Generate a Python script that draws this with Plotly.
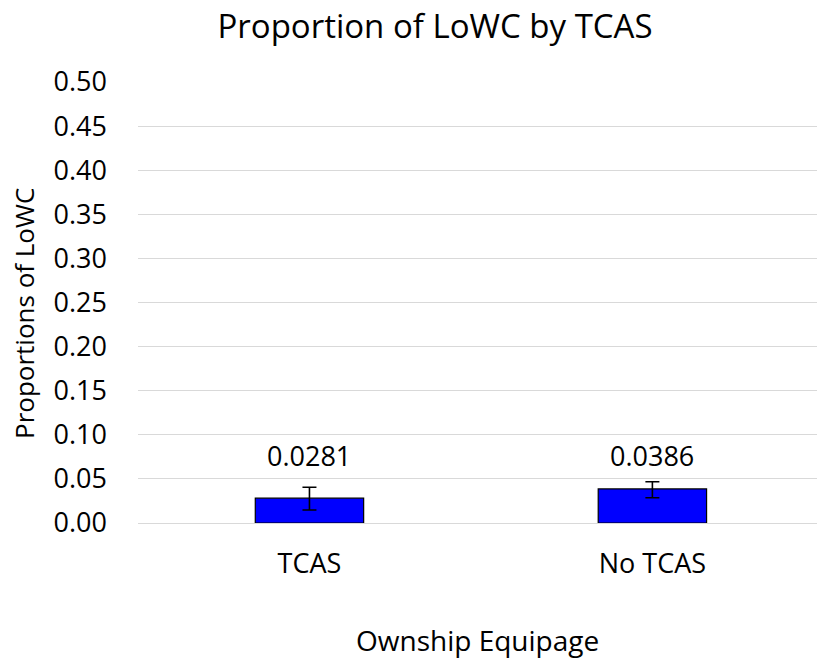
import plotly.graph_objects as go

categories = ["TCAS", "No TCAS"]
proportions = [0.0281, 0.0386]
err_plus = [0.0124, 0.0082]
err_minus = [0.0134, 0.0099]
y_ticks = [0.0, 0.05, 0.10, 0.15, 0.20, 0.25, 0.30, 0.35, 0.40, 0.45, 0.50]

FONT = "Open Sans"
GRID = "#D9D9D9"

fig = go.Figure()
fig.add_trace(go.Bar(
    x=categories,
    y=proportions,
    width=0.316,
    marker=dict(color="#0000FF", line=dict(color="#000000", width=1.2)),
    error_y=dict(type="data", array=err_plus, arrayminus=err_minus,
                 symmetric=False, color="#000000", thickness=1.6, width=7),
    showlegend=False,
))

# value labels sit at a common height above the bars
for c, v in zip(categories, proportions):
    fig.add_annotation(x=c, y=0.076, text=f"{v:.4f}", showarrow=False,
                       font=dict(family=FONT, size=27, color="#000000"),
                       yanchor="middle")

# axis titles
fig.add_annotation(xref="paper", yref="paper", x=0.5, y=-(640 - 523) / 441,
                   text="Ownship Equipage", showarrow=False,
                   xanchor="center", yanchor="middle",
                   font=dict(family=FONT, size=28, color="#000000"))
fig.add_annotation(xref="paper", yref="paper", x=-(138 - 24) / 679, y=(523 - 314) / 441,
                   text="Proportions of LoWC", showarrow=False, textangle=-90,
                   xanchor="center", yanchor="middle",
                   font=dict(family=FONT, size=26, color="#000000"))

fig.update_layout(
    width=817, height=661,
    margin=dict(l=138, r=0, t=82, b=138, autoexpand=False),
    paper_bgcolor="white", plot_bgcolor="white",
    title=dict(text="Proportion of LoWC by TCAS", x=435 / 817, xref="container",
               xanchor="center", y=1 - 26 / 661, yanchor="middle",
               font=dict(family=FONT, size=33, color="#000000")),
    font=dict(family=FONT, color="#000000"),
)
fig.update_xaxes(
    type="category", range=[-0.5, 1.48], automargin=False,
    showgrid=False, showline=False, zeroline=False, ticks="",
    ticklabelstandoff=22,
    tickfont=dict(family=FONT, size=27),
)
fig.update_yaxes(
    range=[0, 0.5], tickvals=y_ticks, tickformat=".2f", automargin=False,
    showgrid=True, gridcolor=GRID, gridwidth=1.3,
    zeroline=True, zerolinecolor=GRID, zerolinewidth=1.3,
    showline=False, ticks="", ticklabelstandoff=30,
    tickfont=dict(family=FONT, size=27),
)

fig.write_html("out.html")
